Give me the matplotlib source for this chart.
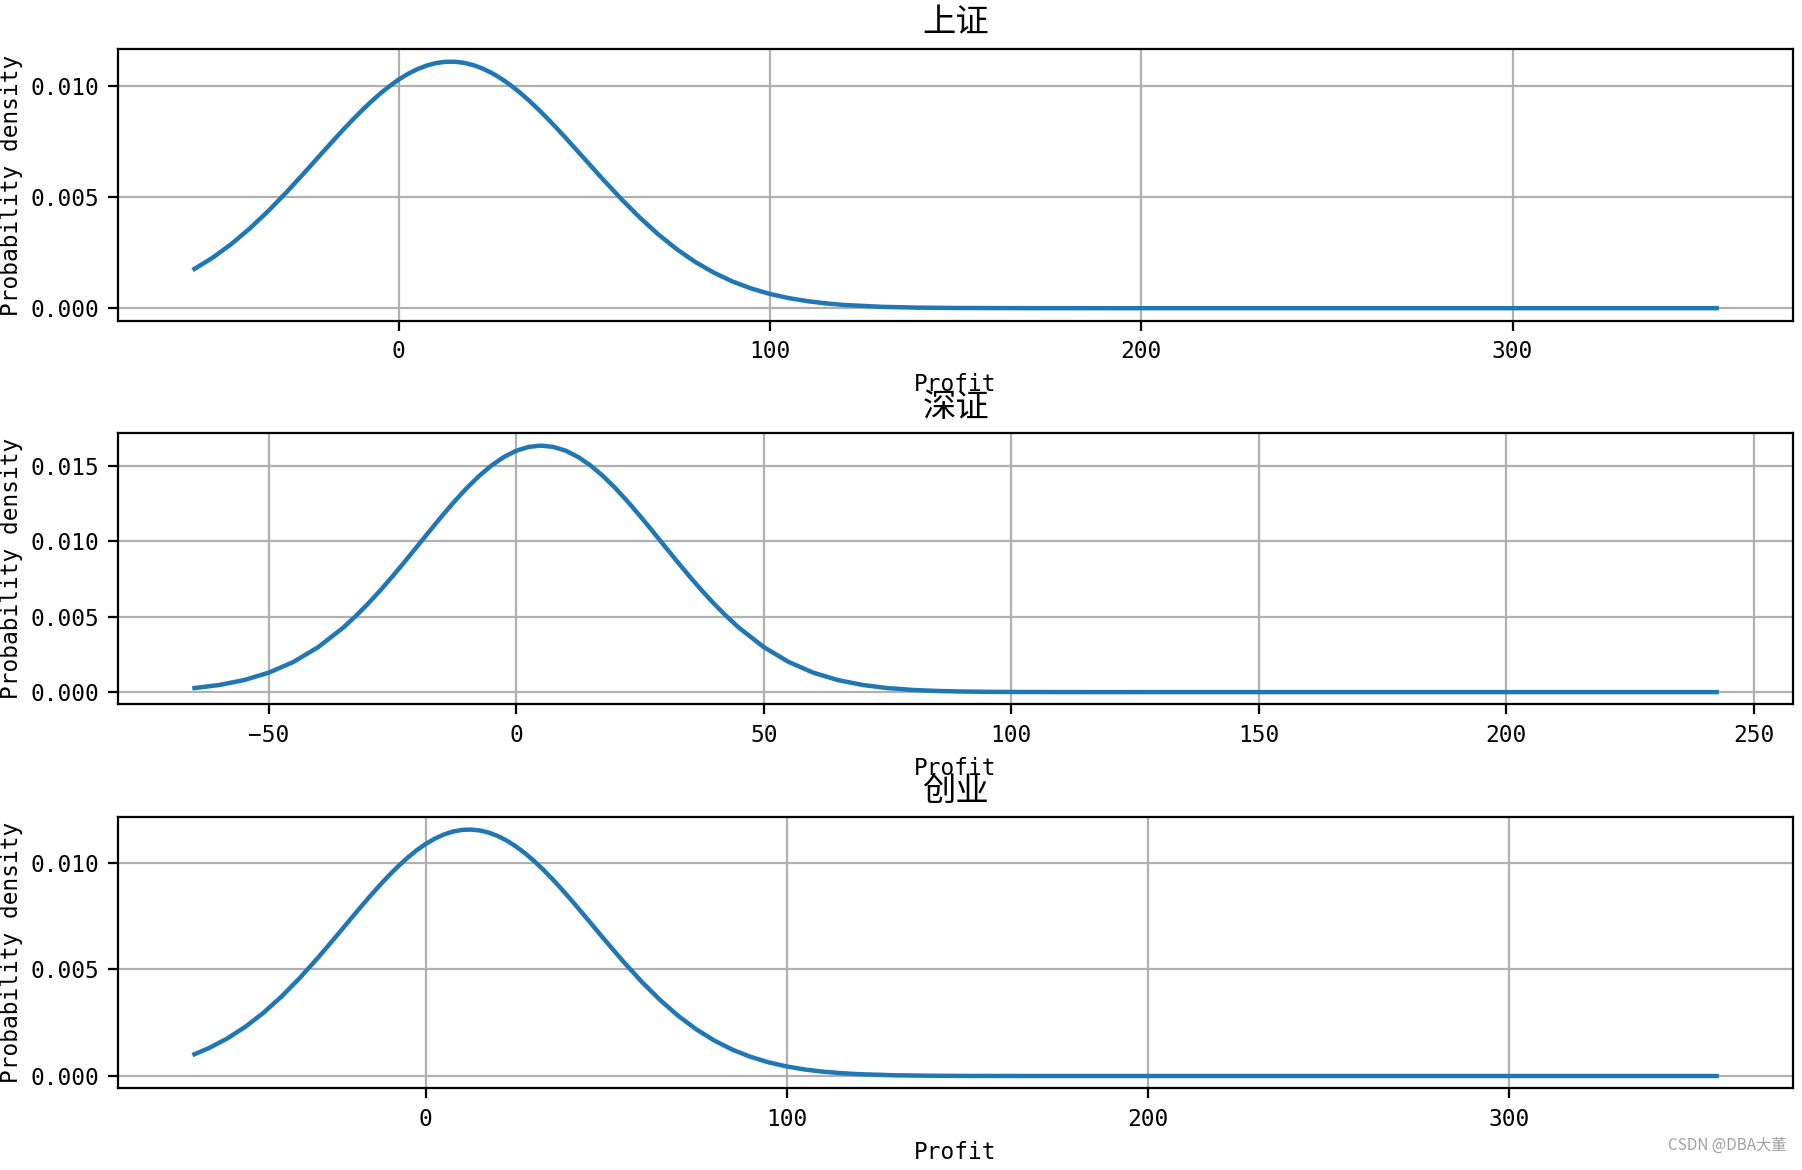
import numpy as np
import matplotlib
matplotlib.use("Agg")
import matplotlib.pyplot as plt

# titles of the three panels
titles = ["上证", "深证", "创业"]

# 上证 : profit vs probability density
sh_x = [-55, -50, -45, -40, -35, -30, -25, -20, -17.5, -15, -12.5, -10, -7.5, -5, -2.5,
        0, 2.5, 5, 7.5, 10, 12.5, 15, 17.5, 20, 22.5, 25, 27.5, 30, 32.5, 35, 37.5, 40,
        42.5, 45, 47.5, 50, 55, 60, 65, 70, 75, 80, 85, 90, 95, 100, 105, 110, 115, 120,
        130, 140, 150, 170, 200, 250, 300, 355]
sh_y = [0.001765, 0.002281, 0.002893, 0.003598, 0.004388, 0.005250, 0.006162, 0.007093,
        0.007556, 0.008010, 0.008450, 0.008872, 0.009270, 0.009640, 0.009975,
        0.010273, 0.010529, 0.010739, 0.010901, 0.011012, 0.011070, 0.011076, 0.011028,
        0.010927, 0.010775, 0.010575, 0.010328, 0.010038, 0.009709, 0.009347, 0.008954,
        0.008536, 0.008099, 0.007647, 0.007186, 0.006720, 0.005793, 0.004898,
        0.004062, 0.003304, 0.002637, 0.002064, 0.001585, 0.001193, 0.000882, 0.000639,
        0.000455, 0.000317, 0.000216, 0.000145, 0.0000616, 0.0000243, 0.0000088,
        0.000001, 0.0, 0.0, 0.0, 0.0]

# 深证
sz_x = [-65, -60, -55, -50, -45, -40, -35, -32.5, -30, -27.5, -25, -22.5, -20, -17.5, -15,
        -12.5, -10, -7.5, -5, -2.5, 0, 2.5, 5, 7.5, 10, 12.5, 15, 17.5, 20, 22.5, 25,
        27.5, 30, 32.5, 35, 37.5, 40, 42.5, 45, 50, 55, 60, 65, 70, 75, 80, 85, 90, 95,
        100, 110, 130, 180, 242.5]
sz_y = [0.000267, 0.000471, 0.000796, 0.001289, 0.002004, 0.002986, 0.004268, 0.005022,
        0.005848, 0.006738, 0.007683, 0.008669, 0.009679, 0.010694, 0.011692,
        0.012650, 0.013543, 0.014348, 0.015042, 0.015605, 0.016020, 0.016274, 0.016360,
        0.016274, 0.016020, 0.015605, 0.015042, 0.014348, 0.013543, 0.012650, 0.011692,
        0.010694, 0.009679, 0.008669, 0.007683, 0.006738, 0.005848, 0.005022, 0.004268,
        0.002986, 0.002004, 0.001289, 0.000796, 0.000471, 0.000267, 0.000145,
        0.0000758, 0.0000379, 0.0000182, 0.0000084, 0.0000015, 0.0, 0.0, 0.0]

# 创业
cy_x = [-64, -60, -55, -50, -45, -40, -35, -30, -25, -20, -17.5, -15, -12.5, -10, -7.5,
        -5, -2.5, 0, 2.5, 5, 7.5, 10, 12.5, 15, 17.5, 20, 22.5, 25, 27.5, 30, 32.5, 35,
        37.5, 40, 42.5, 45, 50, 55, 60, 65, 70, 75, 80, 85, 90, 95, 100, 105, 110, 115,
        120, 130, 140, 150, 170, 200, 250, 300, 357.5]
cy_y = [0.001021, 0.001309, 0.001752, 0.002298, 0.002950, 0.003709, 0.004566, 0.005505,
        0.006499, 0.007512, 0.008013, 0.008503, 0.008976, 0.009425, 0.009845,
        0.010230, 0.010574, 0.010872, 0.011120, 0.011315, 0.011452, 0.011531, 0.011550,
        0.011506, 0.011404, 0.011244, 0.011027, 0.010758, 0.010441, 0.010080, 0.009681,
        0.009249, 0.008789, 0.008309, 0.007814, 0.007310, 0.006297, 0.005312, 0.004388,
        0.003549, 0.002811, 0.002180, 0.001656, 0.001231, 0.000897, 0.000639,
        0.000447, 0.000305, 0.000204, 0.000134, 0.0000860, 0.0000333, 0.0000118,
        0.0000039, 0.0, 0.0, 0.0, 0.0, 0.0]

xticks = [[0, 100, 200, 300], [-50, 0, 50, 100, 150, 200, 250], [0, 100, 200, 300]]
yticks = [[0.0, 0.005, 0.010], [0.0, 0.005, 0.010, 0.015], [0.0, 0.005, 0.010]]

series = [(sh_x, sh_y), (sz_x, sz_y), (cy_x, cy_y)]

plt.rcParams["font.family"] = ["DejaVu Sans Mono", "Noto Sans CJK SC"]
plt.rcParams["axes.unicode_minus"] = True

fig, axes = plt.subplots(3, 1, figsize=(9.01, 5.85), dpi=200)
fig.subplots_adjust(left=0.0657, right=0.9949, top=0.9578, bottom=0.0698, hspace=0.416)

for ax, title, (xs, ys), xt, yt in zip(axes, titles, series, xticks, yticks):
    ax.plot(xs, ys, color="#1f77b4", lw=1.6, solid_joinstyle="round")
    ax.set_title(title, fontsize=12, family=["Noto Sans CJK SC", "DejaVu Sans"])
    ax.set_xlabel("Profit", fontsize=8.2, labelpad=3.5)
    ax.set_ylabel("Probability density", fontsize=8.2)
    ax.yaxis.set_label_coords(-0.0572, 0.5)
    ax.set_xticks(xt)
    ax.set_yticks(yt)
    ax.tick_params(labelsize=8.2)
    ax.grid(True)

fig.text(0.9915, 0.0135, "CSDN @DBA大董", fontsize=5.5, color="#a0a0a0",
         ha="right", va="bottom", family=["Noto Sans CJK SC", "DejaVu Sans"])

plt.savefig("out.png", dpi=200)
